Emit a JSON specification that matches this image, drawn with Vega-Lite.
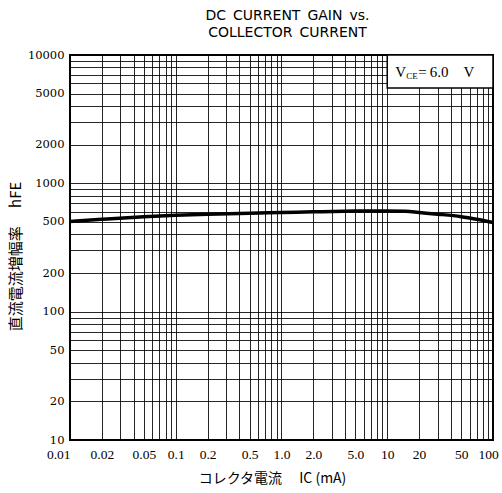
{
  "$schema": "https://vega.github.io/schema/vega-lite/v6.json",
  "autosize": "none",
  "width": 423,
  "height": 385,
  "padding": {"left": 70, "top": 55, "right": 9, "bottom": 53},
  "background": "white",
  "title": {
    "text": ["DC\u2002CURRENT\u2002GAIN\u2002vs.", "COLLECTOR\u2002CURRENT"],
    "font": "DejaVu Sans",
    "fontSize": 14,
    "fontWeight": "normal",
    "lineHeight": 17,
    "anchor": "middle",
    "offset": 9,
    "dx": 6,
    "color": "black"
  },
  "config": {
    "view": {"stroke": "black", "strokeWidth": 2},
    "axis": {
      "ticks": false,
      "domain": false,
      "grid": true,
      "gridColor": "black",
      "gridOpacity": 0.85,
      "gridWidth": 1,
      "labelColor": "black",
      "labelOverlap": false,
      "titleFont": "Noto Sans CJK JP",
      "titleFontWeight": "normal",
      "titleColor": "black"
    }
  },
  "datasets": {
    "curve": [
      {"ic": 0.01, "hfe": 505},
      {"ic": 0.02, "hfe": 525},
      {"ic": 0.05, "hfe": 550},
      {"ic": 0.1, "hfe": 565},
      {"ic": 0.2, "hfe": 575},
      {"ic": 0.5, "hfe": 585},
      {"ic": 1, "hfe": 592},
      {"ic": 2, "hfe": 600},
      {"ic": 5, "hfe": 608},
      {"ic": 10, "hfe": 610},
      {"ic": 15, "hfe": 605},
      {"ic": 20, "hfe": 592},
      {"ic": 30, "hfe": 575},
      {"ic": 50, "hfe": 550},
      {"ic": 70, "hfe": 525},
      {"ic": 100, "hfe": 495}
    ],
    "box": [{"x1": 10, "x2": 100, "y1": 5530, "y2": 10000}],
    "label": [{"x": 11.9, "y": 7360}]
  },
  "layer": [
    {
      "data": {"name": "curve"},
      "mark": {"type": "line", "color": "black", "strokeWidth": 3.5, "interpolate": "monotone"},
      "encoding": {
        "x": {
          "field": "ic", "type": "quantitative",
          "scale": {"type": "log", "domain": [0.01, 100], "nice": false},
          "axis": {
            "title": "コレクタ電流　 IC (mA)",
            "titleFontSize": 14,
            "titlePadding": 11,
            "titleX": 202,
            "titleAlign": "center",
            "labelFont": "Liberation Serif",
            "labelFontSize": 13.5,
            "labelPadding": 7,
            "labelAlign": {"condition": {"test": "datum.value < 0.015", "value": "right"}, "value": "center"},
            "labelOffset": {"condition": {"test": "datum.value > 99", "value": -5}, "value": 0},
            "values": [0.01,0.02,0.03,0.04,0.05,0.06,0.07,0.08,0.09,0.1,0.2,0.3,0.4,0.5,0.6,0.7,0.8,0.9,1,2,3,4,5,6,7,8,9,10,20,30,40,50,60,70,80,90,100],
            "labelExpr": "indexof([0.01,0.02,0.05,0.1,0.2,0.5,1,2,5,10,20,50,100], datum.value) >= 0 ? (datum.value == 1 ? '1.0' : datum.value == 2 ? '2.0' : datum.value == 5 ? '5.0' : '' + datum.value) : ''"
          }
        },
        "y": {
          "field": "hfe", "type": "quantitative",
          "scale": {"type": "log", "domain": [10, 10000], "nice": false},
          "axis": {
            "title": "直流電流増幅率　 hFE",
            "titleFontSize": 15,
            "titleX": -55,
            "titleY": 201,
            "titleAngle": 270,
            "titleAlign": "center",
            "titleBaseline": "middle",
            "labelFont": "DejaVu Serif",
            "labelFontSize": 11.5,
            "labelPadding": 6,
            "values": [10,20,30,40,50,60,70,80,90,100,200,300,400,500,600,700,800,900,1000,2000,3000,4000,5000,6000,7000,8000,9000,10000],
            "labelExpr": "indexof([10,20,50,100,200,500,1000,2000,5000,10000], datum.value) >= 0 ? '' + datum.value : ''"
          }
        }
      }
    },
    {
      "data": {"name": "box"},
      "mark": {"type": "rect", "fill": "white", "stroke": "black", "strokeWidth": 1.5},
      "encoding": {
        "x": {"field": "x1", "type": "quantitative"},
        "x2": {"field": "x2"},
        "y": {"field": "y1", "type": "quantitative"},
        "y2": {"field": "y2"}
      }
    },
    {
      "data": {"name": "label"},
      "mark": {"type": "text", "text": "V", "font": "Liberation Serif", "fontSize": 15, "color": "black", "align": "left", "baseline": "middle"},
      "encoding": {
        "x": {"field": "x", "type": "quantitative"},
        "y": {"field": "y", "type": "quantitative"}
      }
    },
    {
      "data": {"name": "label"},
      "mark": {"type": "text", "text": "CE", "font": "Liberation Serif", "fontSize": 9, "color": "black", "align": "left", "baseline": "middle", "dx": 11, "dy": 4},
      "encoding": {
        "x": {"field": "x", "type": "quantitative"},
        "y": {"field": "y", "type": "quantitative"}
      }
    },
    {
      "data": {"name": "label"},
      "mark": {"type": "text", "text": "=\u20096.0\u2003V", "font": "Liberation Serif", "fontSize": 15, "color": "black", "align": "left", "baseline": "middle", "dx": 23},
      "encoding": {
        "x": {"field": "x", "type": "quantitative"},
        "y": {"field": "y", "type": "quantitative"}
      }
    }
  ]
}
